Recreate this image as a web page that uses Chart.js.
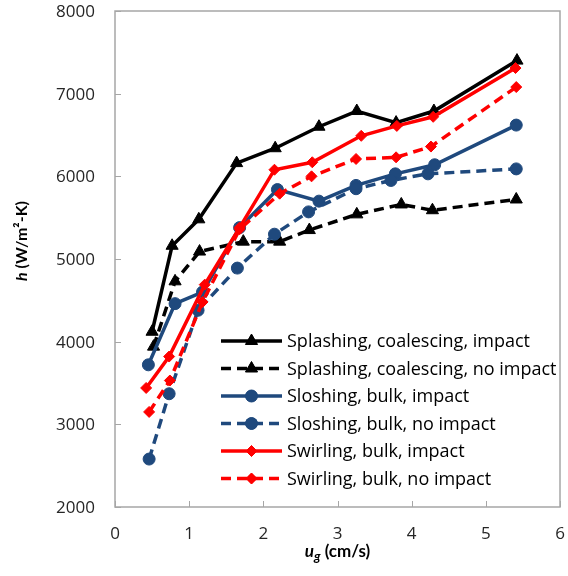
<!DOCTYPE html>
<html>
<head>
<meta charset="utf-8">
<script src="https://cdn.jsdelivr.net/npm/chart.js@4.4.0/dist/chart.umd.min.js"></script>
<style>
  html, body { margin: 0; padding: 0; background: #fff; }
</style>
</head>
<body>
<canvas id="hChart" width="568" height="576"></canvas>
<script>
// values
const seriesNames = [
  "Splashing, coalescing, impact",
  "Splashing, coalescing, no impact",
  "Sloshing, bulk, impact",
  "Sloshing, bulk, no impact",
  "Swirling, bulk, impact",
  "Swirling, bulk, no impact"
];

const splashImpactX = [0.50, 0.77, 1.13, 1.64, 2.16, 2.75, 3.26, 3.79, 4.30, 5.42];
const splashImpactY = [4120, 5160, 5480, 6160, 6340, 6600, 6790, 6650, 6790, 7400];

const splashNoImpactX = [0.52, 0.81, 1.14, 1.73, 2.22, 2.62, 3.26, 3.86, 4.28, 5.41];
const splashNoImpactY = [3940, 4730, 5090, 5210, 5210, 5350, 5540, 5660, 5590, 5720];

const sloshImpactX = [0.45, 0.81, 1.18, 1.68, 2.19, 2.75, 3.25, 3.78, 4.31, 5.41];
const sloshImpactY = [3720, 4460, 4600, 5380, 5840, 5700, 5890, 6030, 6140, 6620];

const sloshNoImpactX = [0.46, 0.73, 1.12, 1.65, 2.15, 2.61, 3.25, 3.72, 4.22, 5.41];
const sloshNoImpactY = [2580, 3370, 4380, 4890, 5300, 5570, 5850, 5950, 6030, 6090];

const swirlImpactX = [0.42, 0.73, 1.21, 1.68, 2.15, 2.66, 3.32, 3.80, 4.29, 5.40];
const swirlImpactY = [3440, 3820, 4690, 5380, 6080, 6170, 6490, 6610, 6720, 7310];

const swirlNoImpactX = [0.46, 0.74, 1.18, 1.68, 2.22, 2.65, 3.25, 3.79, 4.26, 5.41];
const swirlNoImpactY = [3150, 3530, 4480, 5360, 5790, 6000, 6210, 6230, 6360, 7080];

const xTicks = [0, 1, 2, 3, 4, 5, 6];
const yTicks = [2000, 3000, 4000, 5000, 6000, 7000, 8000];

const FONT = "'Open Sans', sans-serif";
const TITLE_FONT = "Lato, 'Open Sans', sans-serif";
const BLUE = "#1F497D";
const RED = "#FF0000";
const BLACK = "#000000";

function pts(xs, ys) {
  return xs.map((x, i) => ({ x: x, y: ys[i] }));
}

function makeSet(i, xs, ys, color, dashed, marker, radius) {
  return {
    label: seriesNames[i],
    data: pts(xs, ys),
    borderColor: color,
    backgroundColor: color,
    borderWidth: 3.5,
    borderDash: dashed ? [10, 6] : [],
    pointStyle: marker,
    pointRadius: radius,
    pointBorderWidth: 1,
    pointBackgroundColor: color,
    pointBorderColor: color,
    tension: 0,
    order: 6 - i
  };
}

// frame, inward tick marks and tick labels
const framePlugin = {
  id: "frame",
  beforeDatasetsDraw(chart) {
    const { ctx, chartArea: a, scales } = chart;
    ctx.save();
    ctx.strokeStyle = "#a6a6a6";
    ctx.lineWidth = 1.5;
    ctx.strokeRect(a.left, a.top, a.right - a.left, a.bottom - a.top);
    ctx.lineWidth = 1;
    ctx.beginPath();
    xTicks.forEach(v => {
      const px = Math.round(scales.x.getPixelForValue(v)) + 0.5;
      ctx.moveTo(px, a.bottom);
      ctx.lineTo(px, a.bottom - 6);
    });
    yTicks.forEach(v => {
      const py = Math.round(scales.y.getPixelForValue(v)) + 0.5;
      ctx.moveTo(a.left, py);
      ctx.lineTo(a.left + 6, py);
    });
    ctx.stroke();

    ctx.fillStyle = "#262626";
    ctx.font = "17px " + FONT;
    ctx.textBaseline = "middle";
    ctx.textAlign = "center";
    xTicks.forEach(v => {
      ctx.fillText(String(v), scales.x.getPixelForValue(v), 534);
    });
    ctx.textAlign = "right";
    yTicks.forEach(v => {
      ctx.fillText(String(v), a.left - 20, scales.y.getPixelForValue(v) + 1);
    });
    ctx.restore();
  }
};

// legend with line + marker samples, and the axis titles
const legendPlugin = {
  id: "innerLegend",
  afterDraw(chart) {
    const { ctx, chartArea: a } = chart;
    ctx.save();
    const x1 = 221, x2 = 282, tx = 287;
    let y = 341;
    chart.data.datasets.forEach(ds => {
      ctx.strokeStyle = ds.borderColor;
      ctx.lineWidth = ds.borderWidth;
      ctx.setLineDash(ds.borderDash);
      ctx.beginPath();
      ctx.moveTo(x1, y);
      ctx.lineTo(x2, y);
      ctx.stroke();
      ctx.setLineDash([]);
      ctx.fillStyle = ds.borderColor;
      ctx.lineWidth = 1;
      Chart.helpers.drawPoint(ctx, { pointStyle: ds.pointStyle, radius: ds.pointRadius, borderWidth: 1 }, (x1 + x2) / 2, y);
      ctx.fill();
      ctx.fillStyle = "#000";
      ctx.font = "18px " + FONT;
      ctx.textBaseline = "middle";
      ctx.textAlign = "left";
      ctx.fillText(ds.label, tx, y + 1);
      y += 27.5;
    });

    // y title: h (W/m²-K)
    ctx.save();
    ctx.translate(22, 241);
    ctx.rotate(-Math.PI / 2);
    ctx.fillStyle = "#000";
    ctx.textBaseline = "middle";
    ctx.textAlign = "left";
    const p1 = "h", p2 = " (W/m\u00B2-K)";
    ctx.font = "italic bold 16px " + TITLE_FONT;
    const w1 = ctx.measureText(p1).width;
    ctx.font = "bold 16px " + TITLE_FONT;
    const w2 = ctx.measureText(p2).width;
    let sx = -(w1 + w2) / 2;
    ctx.font = "italic bold 16px " + TITLE_FONT;
    ctx.fillText(p1, sx, 0);
    ctx.font = "bold 16px " + TITLE_FONT;
    ctx.fillText(p2, sx + w1, 0);
    ctx.restore();

    // x title: u_g (cm/s)
    const cx = (a.left + a.right) / 2, cy = 552;
    ctx.fillStyle = "#000";
    ctx.textBaseline = "middle";
    ctx.textAlign = "left";
    ctx.font = "italic bold 17px " + TITLE_FONT;
    const wu = ctx.measureText("u").width;
    ctx.font = "italic bold 13px " + TITLE_FONT;
    const wg = ctx.measureText("g").width;
    ctx.font = "bold 17px " + TITLE_FONT;
    const wr = ctx.measureText(" (cm/s)").width;
    let bx = cx - (wu + wg + wr) / 2;
    ctx.font = "italic bold 17px " + TITLE_FONT;
    ctx.fillText("u", bx, cy);
    ctx.font = "italic bold 13px " + TITLE_FONT;
    ctx.fillText("g", bx + wu, cy + 5);
    ctx.font = "bold 17px " + TITLE_FONT;
    ctx.fillText(" (cm/s)", bx + wu + wg, cy);
    ctx.restore();
  }
};

const ctx = document.getElementById("hChart").getContext("2d");

new Chart(ctx, {
  type: "line",
  data: {
    datasets: [
      makeSet(0, splashImpactX, splashImpactY, BLACK, false, "triangle", 7),
      makeSet(1, splashNoImpactX, splashNoImpactY, BLACK, true, "triangle", 7),
      makeSet(2, sloshImpactX, sloshImpactY, BLUE, false, "circle", 6),
      makeSet(3, sloshNoImpactX, sloshNoImpactY, BLUE, true, "circle", 6),
      makeSet(4, swirlImpactX, swirlImpactY, RED, false, "rectRot", 5.5),
      makeSet(5, swirlNoImpactX, swirlNoImpactY, RED, true, "rectRot", 5.5)
    ]
  },
  options: {
    responsive: false,
    animation: false,
    devicePixelRatio: 1,
    layout: {
      padding: { left: 0, top: 11, right: 7, bottom: 0 }
    },
    plugins: {
      legend: { display: false },
      tooltip: { enabled: false }
    },
    scales: {
      x: {
        type: "linear",
        min: 0,
        max: 6,
        grid: { display: false, drawTicks: false },
        border: { display: false },
        ticks: { display: false, stepSize: 1 },
        afterFit: function (scale) {
          scale.height = 69;
        }
      },
      y: {
        type: "linear",
        min: 2000,
        max: 8000,
        grid: { display: false, drawTicks: false },
        border: { display: false },
        ticks: { display: false, stepSize: 1000 },
        afterFit: function (scale) {
          scale.width = 115;
        }
      }
    }
  },
  plugins: [framePlugin, legendPlugin]
});
</script>
</body>
</html>
